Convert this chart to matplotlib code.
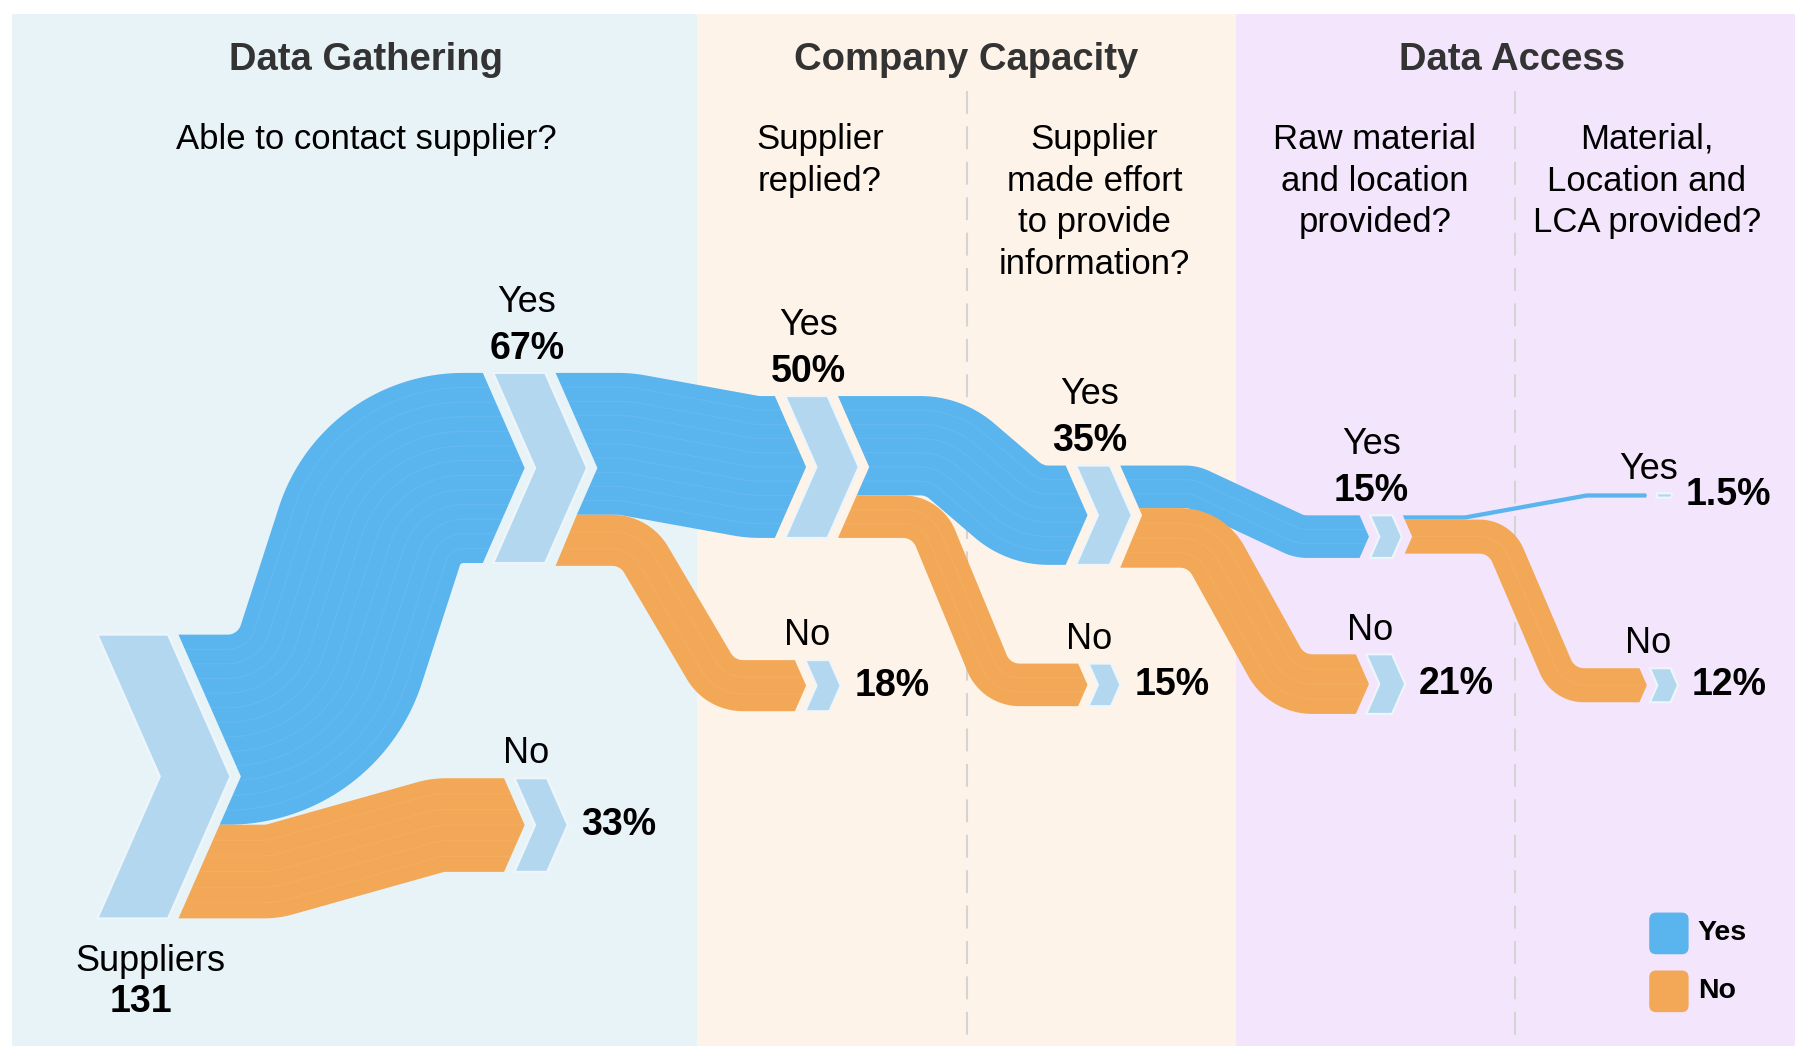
import numpy as np
import matplotlib.pyplot as plt
from matplotlib.patches import Polygon, Rectangle, FancyBboxPatch

plt.rcParams['font.family'] = ['Liberation Sans', 'DejaVu Sans']

# ---- data ----
total_suppliers = 131
node_names = ['Suppliers', 'Yes', 'No', 'Yes', 'No', 'Yes', 'No', 'Yes', 'No', 'Yes', 'No']
node_pct = [100, 67, 33, 50, 18, 35, 15, 15, 21, 1.5, 12]
node_labels = [str(total_suppliers), '67%', '33%', '50%', '18%', '35%', '15%', '15%', '21%', '1.5%', '12%']
link_src = [0, 0, 1, 1, 3, 3, 5, 5, 7, 7]
link_dst = [1, 2, 3, 4, 5, 6, 7, 8, 9, 10]
section_names = ['Data Gathering', 'Company Capacity', 'Data Access']
questions = ['Able to contact supplier?',
             'Supplier\nreplied?',
             'Supplier\nmade effort\nto provide\ninformation?',
             'Raw material\nand location\nprovided?',
             'Material,\nLocation and\nLCA provided?']
legend_names = ['Yes', 'No']

# ---- layout (canvas units, y pointing down) ----
W, H = 1568, 915.3
scale = 2.45          # canvas px per percent
gap = 9
col_x = [138, 462, 705, 948, 1191, 1431]
node_col = [0, 1, 1, 2, 2, 3, 3, 4, 4, 5, 5]
node_top = [548, 322, 672, 342, 570, 402, 573, 445, 565, 426, 577]
label_pos = ['below', 'above', 'right', 'above', 'right', 'above', 'right', 'above', 'right', 'right', 'right']
bends = [(265, 338), (235, 378), (540, 650), (548, 622), (815, 885),
         (800, 860), (1030, 1122), (1041, 1111), (1265, 1370), (1295, 1350)]
panels = [(10, 602, '#e8f3f8'), (602, 1067, '#fdf3e8'), (1067, 1550, '#f3e6fc')]
section_x = [316, 834, 1306]
question_x = [316, 708, 945, 1187, 1422]
divider_x = [835, 1308]

YES_C = '#5ab4ee'
NO_C = '#f2a856'
NODE_C = '#b3d7ee'
colors = {'Yes': YES_C, 'No': NO_C}


def chevron(i):
    h = node_pct[i] * scale
    d = 0.22 * h
    w = 12 + 0.2 * h
    xl = col_x[node_col[i]] - d
    return xl, node_top[i], h, w, d


def edge_x(i, y, side):
    xl, y0, h, w, d = chevron(i)
    mid = y0 + h / 2
    k = 1 - min(abs(y - mid) / (h / 2), 1)
    if side == 'right':
        return xl + w + d * k + gap
    return xl + d * k - gap


def rot(v, a):
    c, s = np.cos(a), np.sin(a)
    return np.array([c * v[0] - s * v[1], s * v[0] + c * v[1]])


def fillet_line(pts, r):
    pts = [np.asarray(p, float) for p in pts]
    out = [(pts[0], (pts[1] - pts[0]) / np.linalg.norm(pts[1] - pts[0]))]
    for j in range(1, len(pts) - 1):
        a, b, c = pts[j - 1], pts[j], pts[j + 1]
        u = (b - a) / np.linalg.norm(b - a)
        v = (c - b) / np.linalg.norm(c - b)
        cross = u[0] * v[1] - u[1] * v[0]
        theta = np.arccos(np.clip(u @ v, -1, 1))
        if theta < 1e-4:
            out.append((b, u))
            continue
        sgn = np.sign(cross)
        t = r * np.tan(theta / 2)
        t = min(t, 0.5 * np.linalg.norm(c - b), 0.9 * np.linalg.norm(b - a))
        rr = t / np.tan(theta / 2)
        normal = np.array([-u[1], u[0]]) * sgn
        center = b - u * t + normal * rr
        radial = (b - u * t) - center
        for phi in np.linspace(0, theta, 40):
            out.append((center + rot(radial, sgn * phi), rot(u, sgn * phi)))
    last = (pts[-1] - pts[-2]) / np.linalg.norm(pts[-1] - pts[-2])
    out.append((pts[-1], last))
    P = np.array([o[0] for o in out])
    D = np.array([o[1] for o in out])
    N = np.column_stack([-D[:, 1], D[:, 0]])
    return P, N


fig = plt.figure(figsize=(18.16, 10.60), dpi=100)
ax = fig.add_axes([0, 0, 1, 1])
ax.set_xlim(0, W)
ax.set_ylim(H, 0)
ax.axis('off')

# background panels and dividers
for x0, x1, c in panels:
    ax.add_patch(Rectangle((x0, 12), x1 - x0, 891, facecolor=c, edgecolor='none', zorder=0))
for x in divider_x:
    ax.plot([x, x], [79, 903], color='#d4d4d4', lw=1.5, dashes=(11, 6), zorder=1)

# titles and questions
for name, x in zip(section_names, section_x):
    ax.text(x, 52, name, ha='center', va='center', fontsize=27.5, fontweight='bold', color='#333333')
for q, x in zip(questions, question_x):
    ax.text(x, 106, q, ha='center', va='top', fontsize=25, linespacing=1.34, color='black')

# links
src_offset = {}
for k in range(len(link_src)):
    s, t = link_src[k], link_dst[k]
    h = node_pct[t] * scale
    off = src_offset.get(s, 0)
    src_offset[s] = off + h
    ycs = node_top[s] + off + h / 2
    yct = node_top[t] + node_pct[t] * scale / 2
    p0 = (col_x[node_col[s]], ycs)
    p1 = (bends[k][0], ycs)
    p2 = (bends[k][1], yct)
    p3 = (col_x[node_col[t]], yct)
    P, N = fillet_line([p0, p1, p2, p3], h / 2 + 12)
    A = P - N * h / 2
    B = P + N * h / 2
    for E in (A, B):
        E[0, 0] = edge_x(s, E[0, 1], 'right')
        E[-1, 0] = edge_x(t, E[-1, 1], 'left')
    poly = list(A)
    if A[-1, 1] < yct < B[-1, 1]:
        poly.append((edge_x(t, yct, 'left'), yct))
    poly += list(B[::-1])
    smid = node_top[s] + node_pct[s] * scale / 2
    if A[0, 1] < smid < B[0, 1]:
        poly.append((edge_x(s, smid, 'right'), smid))
    ax.add_patch(Polygon(poly, closed=True, facecolor=colors[node_names[t]],
                         edgecolor='none', zorder=2))
    # faint strands inside the ribbon
    n_lines = int(node_pct[t] / 5)
    for o in np.linspace(-h / 2, h / 2, n_lines + 1)[1:-1]:
        S = P + N * o
        S[0, 0] = edge_x(s, S[0, 1], 'right')
        S[-1, 0] = edge_x(t, S[-1, 1], 'left')
        ax.plot(S[:, 0], S[:, 1], color='white', alpha=0.07, lw=0.8, zorder=3)

# nodes and labels
for i in range(len(node_names)):
    xl, y0, h, w, d = chevron(i)
    pts = [(xl, y0), (xl + w, y0), (xl + w + d, y0 + h / 2), (xl + w, y0 + h),
           (xl, y0 + h), (xl + d, y0 + h / 2)]
    ax.add_patch(Polygon(pts, closed=True, facecolor=NODE_C, edgecolor='#eef6fb',
                         lw=1.5, zorder=4))
    cx = col_x[node_col[i]]
    if label_pos[i] == 'above':
        ax.text(cx - 7, y0 - 61, node_names[i], ha='center', va='center', fontsize=26)
        ax.text(cx - 7, y0 - 21, node_labels[i], ha='center', va='center', fontsize=27,
                fontweight='bold')
    elif label_pos[i] == 'right':
        ax.text(cx - 8, y0 - 21, node_names[i], ha='center', va='center', fontsize=26)
        ax.text(xl + w + d + 12, y0 + h / 2, node_labels[i], ha='left', va='center',
                fontsize=27, fontweight='bold')
    else:
        ax.text(cx - 8, y0 + h + 37, node_names[i], ha='center', va='center', fontsize=26)
        ax.text(cx - 16, y0 + h + 72, node_labels[i], ha='center', va='center', fontsize=27,
                fontweight='bold')

# legend
for j, name in enumerate(legend_names):
    y = 788 + j * 50
    ax.add_patch(FancyBboxPatch((1424, y), 34, 36, boxstyle='round,pad=0,rounding_size=6',
                                facecolor=colors[name], edgecolor='none', zorder=4))
    ax.text(1466, y + 18, name, ha='left', va='center', fontsize=20.5, fontweight='bold')

fig.savefig('out.png', dpi=100, facecolor='white')
